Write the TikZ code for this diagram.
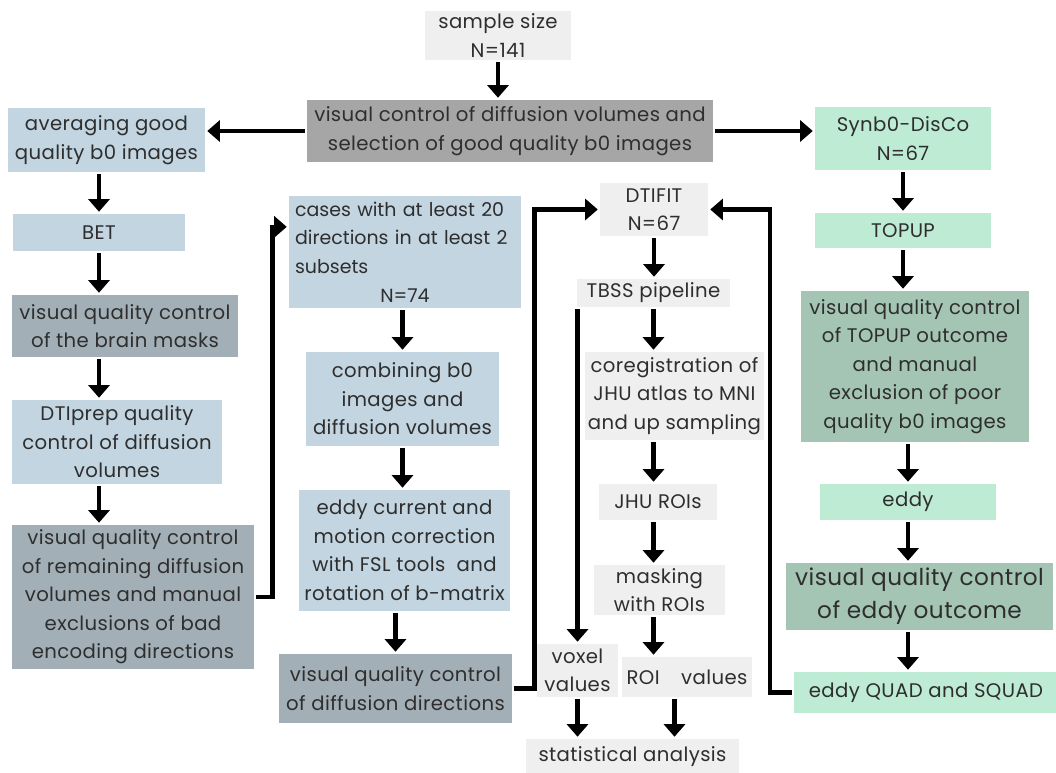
\documentclass[tikz,border=0pt]{standalone}
\usepackage{fontspec}
\setmainfont{Poppins}[LetterSpace = 2]
\usetikzlibrary{arrows.meta}

\definecolor{paleGrey}{HTML}{EFEFEF}
\definecolor{midGrey}{HTML}{A6A6A6}
\definecolor{paleBlue}{HTML}{C2D5E1}
\definecolor{slate}{HTML}{A3AFB6}
\definecolor{mint}{HTML}{BEEBD3}
\definecolor{sage}{HTML}{A4C5B4}
\definecolor{ink}{HTML}{2E2E2E}

\begin{document}
\begin{tikzpicture}[
  line width = 3.2pt,
  > = {Triangle[length = 9pt, width = 15pt]},
  box/.style = {inner sep = 2pt, align = center, text = ink,
    font = \fontsize{14}{20.3}\selectfont},
  greybox/.style = {box, fill = paleGrey},
  darkbox/.style = {box, fill = midGrey},
  bluebox/.style = {box, fill = paleBlue},
  slatebox/.style = {box, fill = slate},
  greenbox/.style = {box, fill = mint},
  sagebox/.style = {box, fill = sage},
  ]

  \useasboundingbox (0, 0) rectangle (26.4, -19.325);

  % top row
  \node at (12.45, -0.8875)
  [greybox, minimum width = 3.65cm, minimum height = 1.175cm, name = Sample] {sample size\\N=141};

  \node at (12.75, -3.275)
  [darkbox, minimum width = 10.15cm, minimum height = 1.55cm, name = Selection]
  {visual control of diffusion volumes and\\selection of good quality b0 images};

  % left column
  \node at (2.6625, -3.5)
  [bluebox, minimum width = 4.925cm, minimum height = 1.6cm, name = Averaging] {averaging good\\quality b0 images};

  \node at (2.475, -5.8125)
  [bluebox, minimum width = 4.3cm, minimum height = 0.925cm, name = BET] {BET};

  \node at (3.125, -8.15)
  [slatebox, minimum width = 5.65cm, minimum height = 1.55cm, name = Masks] {visual quality control\\of the brain masks};

  \node at (2.925, -11.05)
  [bluebox, minimum width = 5.25cm, minimum height = 2.1cm, name = DTIprep] {DTIprep quality\\control of diffusion\\volumes};

  \node at (3.325, -14.925)
  [slatebox, minimum width = 6.05cm, minimum height = 3.6cm, name = Remaining]
  {visual quality control\\of remaining diffusion\\volumes and manual\\exclusions of bad\\encoding directions};

  % second column
  \node at (10.125, -6.3)
  [bluebox, align = left, text width = 5.5cm, inner xsep = 0.15cm, minimum height = 2.8cm, name = Cases,
   font = \fontsize{13.5}{20.3}\selectfont\addfontfeatures{LetterSpace = 0}]
  {cases with at least 20\\directions in at least 2\\subsets\\\hfill N=74\hfill\null};

  \node at (10.0625, -9.975)
  [bluebox, minimum width = 4.825cm, minimum height = 2.35cm, name = Combining] {combining b0\\images and\\diffusion volumes};

  \node at (10.1125, -13.7625)
  [bluebox, minimum width = 5.275cm, minimum height = 3.025cm, name = Eddycurrent]
  {eddy current and\\motion correction\\with FSL tools\ \ and\\rotation of b-matrix};

  \node at (9.8875, -17.2125)
  [slatebox, minimum width = 5.825cm, minimum height = 1.725cm, name = Directions] {visual quality control\\of diffusion directions};

  % third column
  \node at (16.35, -5.2375)
  [greybox, minimum width = 2.7cm, minimum height = 1.325cm, name = DTIFIT] {DTIFIT\\N=67};

  \node at (16.3375, -7.325)
  [greybox, minimum width = 3.825cm, minimum height = 0.7cm, name = TBSS] {TBSS pipeline};

  \node at (16.8625, -9.9)
  [greybox, minimum width = 4.375cm, minimum height = 2.2cm, name = Coregistration]
  {coregistration of\\JHU atlas to MNI\\and up sampling};

  \node at (16.45, -12.55)
  [greybox, minimum width = 2.95cm, minimum height = 0.9cm, name = JHU] {JHU ROIs};

  \node at (16.4875, -14.75)
  [greybox, minimum width = 3.275cm, minimum height = 1.25cm, name = Masking] {masking\\with ROIs};

  \node at (14.4375, -16.7625)
  [greybox, minimum width = 2.025cm, minimum height = 1.325cm, name = Voxel] {voxel\\values};

  \node at (17.175, -16.925)
  [greybox, minimum width = 3.25cm, minimum height = 1.0cm, name = ROIvalues] {ROI\hspace{1.1em}values};

  \node at (15.8125, -18.925)
  [greybox, minimum width = 5.325cm, minimum height = 0.9cm, name = Statistics] {statistical analysis};

  % right column
  \node at (22.575, -3.4625)
  [greenbox, minimum width = 4.4cm, minimum height = 1.575cm, name = Synb] {Synb0-DisCo\\N=67};

  \node at (22.575, -5.7625)
  [greenbox, minimum width = 4.4cm, minimum height = 0.875cm, name = TOPUP] {TOPUP};

  \node at (22.875, -9.1625)
  [sagebox, minimum width = 5.7cm, minimum height = 3.775cm, name = TOPUPcheck]
  {visual quality control\\of TOPUP outcome\\and manual\\exclusion of poor\\quality b0 images};

  \node at (22.7, -12.55)
  [greenbox, minimum width = 4.4cm, minimum height = 0.9cm, name = Eddy] {eddy};

  \node at (22.9875, -14.9125)
  [sagebox, minimum width = 6.675cm, minimum height = 1.675cm, name = Eddycheck,
   font = \fontsize{16.5}{23.5}\selectfont] {visual quality control\\of eddy outcome};

  \node at (23.15, -17.3125)
  [greenbox, minimum width = 6.6cm, minimum height = 1.025cm, name = QUAD] {eddy QUAD and SQUAD};

  % connectors
  \draw [->] (Sample.south) to (Sample.south |- Selection.north);

  \draw [->] (Selection.west) to (Selection.west -| Averaging.east);

  \draw [->] (Selection.east) to (Selection.east -| Synb.west);

  \draw [->] (Averaging.south -| BET) to (BET.north);

  \draw [->] (BET.south) to (BET.south |- Masks.north);

  \draw [->] (Masks.south -| BET) to (DTIprep.north -| BET);

  \draw [->] (DTIprep.south -| BET) to (Remaining.north -| BET);

  \draw [->] (Remaining.east) -- ++(0.41, 0) |- (Cases.168);

  \draw [->] (Cases.south -| Combining) to (Combining.north);

  \draw [->] (Combining.south) to (Combining.south |- Eddycurrent.north);

  \draw [->] (Eddycurrent.south -| Directions) to (Directions.north);

  \draw [->] (Directions.east) -- ++(0.51, 0) |- (DTIFIT.west);

  \draw [->] (QUAD.west) -- ++(-0.55, 0) |- (DTIFIT.east);

  \draw [->] (DTIFIT.south) to (DTIFIT.south |- TBSS.north);

  \draw [->] (TBSS.south) to (TBSS.south |- Coregistration.north);

  \draw [->] (Coregistration.south -| TBSS) to (JHU.north -| TBSS);

  \draw [->] (JHU.south -| TBSS) to (Masking.north -| TBSS);

  \draw [->] (Masking.south -| TBSS) to (ROIvalues.north -| TBSS);

  \draw [->] (TBSS.south -| Voxel) to (Voxel.north);

  \draw [->] (Voxel.south) to (Voxel.south |- Statistics.north);

  \draw [->] (ROIvalues.south -| Coregistration) to (Statistics.north -| Coregistration);

  \draw [->] (Synb.south) to (TOPUP.north);

  \draw [->] (TOPUP.south) to (TOPUP.south |- TOPUPcheck.north);

  \draw [->] (TOPUPcheck.south -| Eddy) to (Eddy.north);

  \draw [->] (Eddy.south) to (Eddy.south |- Eddycheck.north);

  \draw [->] (Eddycheck.south -| Eddy) to (QUAD.north -| Eddy);

\end{tikzpicture}
\end{document}
